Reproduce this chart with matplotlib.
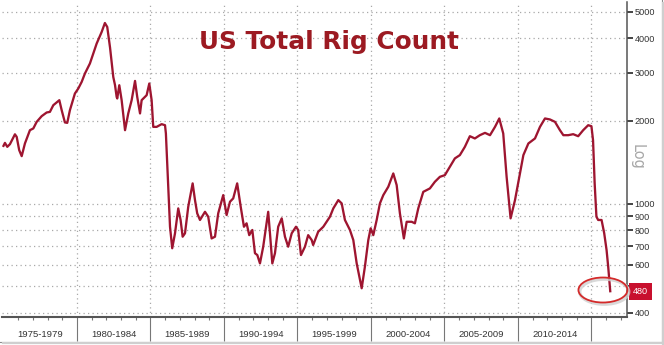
import matplotlib
matplotlib.use('Agg')
import matplotlib.pyplot as plt
from matplotlib.patches import Ellipse
from matplotlib.lines import Line2D
from matplotlib.ticker import NullLocator, FixedLocator
from matplotlib.transforms import IdentityTransform

# ---- data (decimal year, US total rig count) ----
years = [
    1975.00, 1975.10, 1975.26, 1975.44, 1975.78, 1975.90, 1976.07, 1976.24, 1976.46, 1976.80,
    1977.03, 1977.26, 1977.60, 1977.94, 1978.16, 1978.39, 1978.80, 1978.96, 1979.18, 1979.34,
    1979.52, 1979.86, 1980.09, 1980.32, 1980.54, 1980.88, 1981.34, 1981.68, 1981.90, 1982.06,
    1982.25, 1982.47, 1982.59, 1982.70, 1982.74, 1982.88, 1983.04, 1983.27, 1983.49, 1983.72,
    1983.95, 1984.10, 1984.29, 1984.40, 1984.74, 1984.92, 1985.08, 1985.19, 1985.42, 1985.76,
    1985.99, 1986.05, 1986.21, 1986.33, 1986.48, 1986.67, 1986.89, 1987.05, 1987.19, 1987.35,
    1987.57, 1987.87, 1988.03, 1988.18, 1988.37, 1988.71, 1988.93, 1989.16, 1989.39, 1989.61,
    1989.95, 1990.18, 1990.41, 1990.63, 1990.90, 1991.14, 1991.36, 1991.54, 1991.72, 1991.93,
    1992.11, 1992.27, 1992.45, 1992.67, 1993.01, 1993.13, 1993.29, 1993.47, 1993.69, 1993.93,
    1994.15, 1994.37, 1994.61, 1994.90, 1995.05, 1995.24, 1995.51, 1995.73, 1995.97, 1996.07,
    1996.41, 1996.76, 1997.21, 1997.44, 1997.78, 1998.01, 1998.23, 1998.57, 1998.80, 1999.03,
    1999.37, 1999.59, 1999.82, 1999.98, 2000.16, 2000.39, 2000.61, 2000.84, 2001.18, 2001.52,
    2001.75, 2001.97, 2002.24, 2002.43, 2002.77, 2002.99, 2003.22, 2003.56, 2004.01, 2004.35,
    2004.69, 2005.03, 2005.37, 2005.71, 2006.05, 2006.39, 2006.73, 2007.07, 2007.41, 2007.76,
    2008.10, 2008.44, 2008.73, 2009.00, 2009.23, 2009.50, 2009.80, 2010.14, 2010.37, 2010.71,
    2011.16, 2011.50, 2011.84, 2012.18, 2012.52, 2012.86, 2013.09, 2013.42, 2013.76, 2014.10,
    2014.44, 2014.78, 2015.00, 2015.11, 2015.22, 2015.34, 2015.46, 2015.69, 2015.87, 2016.03,
    2016.14, 2016.28,
]
counts = [
    1623, 1664, 1610, 1646, 1788, 1750, 1566, 1489, 1656, 1851,
    1878, 1985, 2082, 2147, 2158, 2282, 2380, 2189, 1975, 1968,
    2189, 2517, 2625, 2774, 2975, 3236, 3826, 4216, 4545, 4396,
    3700, 2893, 2698, 2446, 2414, 2698, 2380, 1851, 2130, 2380,
    2797, 2446, 2130, 2380, 2482, 2737, 2380, 1903, 1903, 1947,
    1930, 1801, 1152, 824, 688, 780, 961, 872, 758, 780,
    974, 1185, 1030, 922, 872, 934, 896, 747, 758, 922,
    1074, 909, 1016, 1045, 1185, 974, 824, 848, 768, 802,
    660, 650, 606, 697, 934, 780, 606, 660, 824, 884,
    758, 697, 780, 824, 802, 650, 697, 768, 737, 707,
    790, 824, 896, 961, 1030, 1002, 872, 802, 737, 606,
    492, 590, 737, 813, 768, 872, 1002, 1074, 1152, 1288,
    1168, 922, 747, 859, 859, 848, 961, 1104, 1136, 1201,
    1252, 1270, 1362, 1461, 1502, 1610, 1760, 1727, 1775, 1810,
    1775, 1903, 2042, 1801, 1252, 884, 1030, 1288, 1502, 1656,
    1727, 1903, 2042, 2025, 1985, 1850, 1775, 1775, 1790, 1760,
    1851, 1930, 1914, 1702, 1185, 896, 872, 872, 780, 678,
    590, 480,
]
period_starts = [1975, 1980, 1985, 1990, 1995, 2000, 2005, 2010]
period_labels = ['1975-1979', '1980-1984', '1985-1989', '1990-1994',
                 '1995-1999', '2000-2004', '2005-2009', '2010-2014']
boundaries = [1980, 1985, 1990, 1995, 2000, 2005, 2010, 2015]
minor_years = [y for y in range(1976, 2018) if y % 5 != 0]
ytick_values = [400, 500, 600, 700, 800, 900, 1000, 2000, 3000, 4000, 5000]
ytick_labels = ['400', '', '600', '700', '800', '900', '1000', '2000', '3000', '4000', '5000']
title_text = 'US Total Rig Count'

LINE_RED = '#9e1530'
TITLE_RED = '#9c1a22'
BOX_RED = '#c8102e'
AXIS_GREY = '#555555'
GRID_GREY = '#a9a9a9'

W, H = 664, 345
fig = plt.figure(figsize=(W / 100, H / 100), dpi=100)
fig.patch.set_facecolor('white')
ax = fig.add_axes([2 / W, 1 - 317 / H, 625 / W, 315 / H])
ax.set_facecolor('white')

ax.plot(years, counts, color=LINE_RED, lw=1.65, solid_joinstyle='round', zorder=3)

ax.set_yscale('log')
ax.set_xlim(1974.9, 2017.42)
ax.set_ylim(386.7, 5420)

# y axis on the right
ax.yaxis.tick_right()
ax.yaxis.set_major_locator(FixedLocator(ytick_values))
ax.yaxis.set_minor_locator(NullLocator())
ax.set_yticklabels(ytick_labels)
ax.tick_params(axis='y', which='major', direction='out', length=4, width=1.4,
               color='#444444', labelsize=6.6, labelcolor='#333333', pad=1.5)
for lab in ax.get_yticklabels():
    lab.set_family('Liberation Sans')

# x axis: boundaries as long separators, yearly minor ticks
ax.set_xticks(boundaries)
ax.set_xticks(minor_years, minor=True)
ax.tick_params(axis='x', which='major', direction='out', length=17.5, width=0.8,
               color='#777777', labelbottom=False)
ax.tick_params(axis='x', which='minor', direction='out', length=2.3, width=0.8,
               color='#777777')

ax.grid(True, which='major', axis='both', linestyle=(0, (1, 2.6)),
        color=GRID_GREY, lw=0.9, zorder=1)

for side in ['left', 'top']:
    ax.spines[side].set_visible(False)
ax.spines['right'].set_color(AXIS_GREY)
ax.spines['right'].set_linewidth(1.1)
ax.spines['bottom'].set_color(AXIS_GREY)
ax.spines['bottom'].set_linewidth(1.5)

# period labels in the bottom band
xt = ax.get_xaxis_transform()
for s, lab in zip(period_starts, period_labels):
    ax.text(s + 2.5, -0.057, lab, transform=xt, ha='center', va='center',
            fontsize=6.8, family='Liberation Sans', color='#333333')

# title and "Log"
fig.text(329 / W, 1 - 49.3 / H, title_text, ha='center', va='baseline',
         fontsize=17.8, fontweight='bold', color=TITLE_RED, family='DejaVu Sans')
fig.text(637 / W, 1 - 157 / H, 'Log', rotation=270, ha='center', va='center',
         fontsize=10.5, color='#a8a8a8', family='DejaVu Sans')

# last value box
ax.annotate(f'{counts[-1]:.0f}', xy=(1, counts[-1]), xycoords=('axes fraction', 'data'),
            xytext=(13.5, 0), textcoords='offset pixels', ha='center', va='center',
            fontsize=6.6, family='Liberation Sans', color='white', annotation_clip=False,
            bbox=dict(boxstyle='square,pad=0.42', fc=BOX_RED, ec='none'), zorder=5)

# ellipse around the last point
px, py = ax.transData.transform((years[-1], counts[-1]))
shadow = Ellipse((px - 6, py - 0.5), 49, 25, fill=False, ec='#d0d0d0', lw=2.4,
                 transform=IdentityTransform(), alpha=0.8)
fig.add_artist(shadow)
ring = Ellipse((px - 7.3, py + 1.2), 49, 25, fill=False, ec='#d42a2a', lw=1.3,
               transform=IdentityTransform())
fig.add_artist(ring)

# frame border with shadow (right and bottom)
fig.add_artist(Line2D([661.5, 661.5], [3.5, H], color='#8a8a8a', lw=0.8,
                      transform=IdentityTransform()))
fig.add_artist(Line2D([0, 661.5], [3.5, 3.5], color='#8a8a8a', lw=0.8,
                      transform=IdentityTransform()))
fig.add_artist(Line2D([663, 663], [1, H - 3], color='#cfcfcf', lw=1.6,
                      transform=IdentityTransform()))
fig.add_artist(Line2D([3, 663], [2, 2], color='#cfcfcf', lw=1.6,
                      transform=IdentityTransform()))

fig.savefig('out.png', dpi=100, facecolor='white')
